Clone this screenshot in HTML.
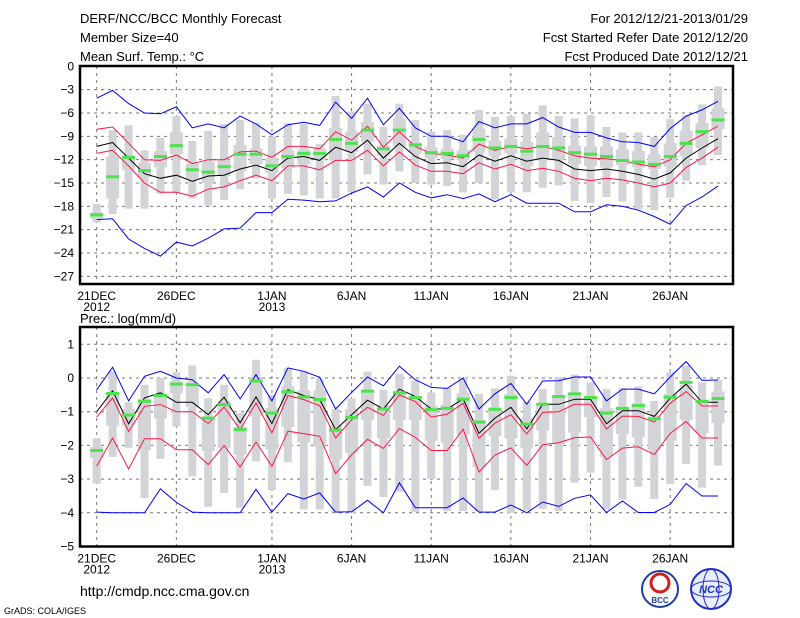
<!DOCTYPE html>
<html><head><meta charset="utf-8"><style>
html,body{margin:0;padding:0;background:#fff;}
svg{display:block;font-family:"Liberation Sans",sans-serif;}
</style></head><body>
<svg id="chart" width="800" height="618" viewBox="0 0 800 618" xmlns="http://www.w3.org/2000/svg">
<rect x="0" y="0" width="800" height="618" fill="#fff"/>
<text x="80" y="23" font-size="13">DERF/NCC/BCC Monthly Forecast</text>
<text x="80" y="42" font-size="13">Member Size=40</text>
<text x="80" y="61" font-size="13">Mean Surf. Temp.: °C</text>
<text x="748" y="23" font-size="13" text-anchor="end">For 2012/12/21-2013/01/29</text>
<text x="748" y="42" font-size="13" text-anchor="end">Fcst Started Refer Date 2012/12/20</text>
<text x="748" y="61" font-size="13" text-anchor="end">Fcst Produced Date 2012/12/21</text>
<text x="80" y="323" font-size="13">Prec.: log(mm/d)</text>
<text x="80" y="596" font-size="14">http://cmdp.ncc.cma.gov.cn</text>
<text x="4" y="614" font-size="9">GrADS: COLA/IGES</text>
<g>
<circle cx="660" cy="589" r="18" fill="#fff" stroke="#1f3fa0" stroke-width="2"/>
<circle cx="660" cy="583" r="9" fill="none" stroke="#d02020" stroke-width="3"/>
<text x="660" y="603" font-size="8" text-anchor="middle" fill="#1f3fa0" font-weight="bold">BCC</text>
</g>
<g>
<circle cx="711" cy="589" r="20" fill="#e8ecff" stroke="#2030c0" stroke-width="2"/>
<ellipse cx="711" cy="589" rx="20" ry="8" fill="none" stroke="#2030c0" stroke-width="1"/>
<ellipse cx="711" cy="589" rx="8" ry="20" fill="none" stroke="#2030c0" stroke-width="1"/>
<text x="711" y="593" font-size="11" text-anchor="middle" fill="#2030c0" font-weight="bold" font-style="italic">NCC</text>
</g>
</svg>
<script>
// ----- Temperature panel data (°C), 2012-12-21 .. 2013-01-29 -----
const tBlueHi=[-4.1,-3.1,-4.8,-6.0,-6.1,-5.2,-7.9,-7.4,-7.9,-6.4,-7.4,-8.8,-7.5,-7.2,-7.6,-4.6,-6.7,-4.1,-7.5,-5.4,-7.9,-9.0,-9.0,-9.7,-7.1,-7.9,-7.4,-7.4,-6.6,-7.8,-8.5,-8.5,-9.2,-9.7,-9.8,-10.3,-8.0,-6.4,-5.6,-4.5];
const tRedHi=[-8.1,-7.8,-9.9,-12.0,-12.1,-11.4,-12.5,-12.0,-12.0,-11.0,-10.9,-11.7,-10.3,-10.3,-10.6,-8.4,-9.5,-7.7,-10.4,-8.4,-10.3,-11.2,-11.4,-11.8,-10.0,-10.8,-10.3,-10.6,-10.3,-10.8,-11.5,-11.8,-11.9,-12.1,-12.6,-12.9,-12.0,-9.9,-8.8,-7.7];
const tMean=[-10.3,-9.8,-11.8,-13.8,-14.4,-14.0,-14.8,-14.1,-14.0,-13.2,-12.7,-13.4,-11.8,-11.6,-12.1,-10.4,-11.1,-9.5,-11.8,-9.9,-11.6,-12.5,-12.4,-12.9,-11.4,-12.2,-11.5,-12.2,-11.8,-12.1,-13.2,-13.4,-13.2,-13.5,-13.9,-14.5,-13.7,-11.8,-10.5,-9.3];
const tRedLo=[-11.2,-10.8,-12.8,-15.0,-16.2,-16.2,-16.7,-15.8,-15.5,-14.7,-14.0,-14.7,-12.8,-12.8,-13.3,-12.1,-12.1,-10.8,-12.8,-11.0,-12.7,-13.5,-13.5,-13.8,-12.4,-13.2,-12.6,-13.4,-13.1,-13.5,-14.4,-14.7,-14.4,-14.6,-15.0,-15.5,-15.0,-13.0,-11.8,-10.4];
const tBlueLo=[-19.7,-19.6,-22.2,-23.4,-24.4,-22.6,-23.1,-22.1,-20.9,-20.8,-18.8,-18.8,-17.1,-17.2,-17.4,-17.3,-16.3,-15.5,-16.8,-15.0,-16.2,-16.9,-16.5,-17.0,-16.4,-17.4,-16.5,-17.6,-17.6,-17.6,-18.7,-18.7,-17.8,-18.0,-18.5,-19.3,-20.3,-17.9,-16.8,-15.4];
const tGreen=[-19.1,-14.2,-11.7,-13.4,-11.6,-10.2,-13.3,-13.6,-12.9,-11.3,-11.3,-12.8,-11.6,-11.2,-11.2,-9.4,-9.9,-8.2,-10.6,-8.2,-10.1,-11.1,-11.2,-11.5,-9.4,-10.5,-10.3,-10.9,-10.3,-10.5,-11.1,-11.3,-11.6,-12.1,-12.3,-12.6,-11.6,-9.9,-8.4,-6.9];
const tOutHi=[-17.7,-8.2,-7.6,-10.8,-9.2,-6.4,-9.6,-8.3,-7.4,-6.9,-7.3,-9.0,-7.3,-7.4,-10.0,-3.8,-5.8,-4.8,-7.8,-4.8,-6.9,-8.4,-8.2,-8.8,-5.6,-6.5,-6.4,-6.1,-5.0,-6.4,-6.7,-6.3,-7.8,-8.5,-8.5,-9.1,-6.8,-6.3,-4.9,-2.6];
const tOutLo=[-20.1,-19.0,-18.3,-18.3,-16.4,-16.3,-17.0,-17.9,-17.2,-15.8,-14.4,-17.0,-16.4,-16.6,-17.0,-17.0,-16.2,-13.9,-15.2,-13.5,-15.0,-15.2,-15.4,-16.2,-15.0,-17.1,-16.2,-16.2,-15.6,-15.3,-17.3,-17.6,-16.8,-17.4,-18.4,-18.5,-16.9,-14.7,-12.7,-11.4];
const tInHi=[-18.8,-11.6,-11.5,-12.4,-10.9,-8.5,-12.5,-12.3,-12.1,-10.1,-10.6,-11.8,-10.8,-10.7,-10.6,-7.9,-8.4,-7.2,-10.2,-6.7,-9.8,-10.4,-10.6,-10.8,-8.0,-9.6,-9.3,-9.7,-8.5,-9.1,-10.2,-10.3,-10.3,-10.7,-10.9,-11.3,-9.9,-8.3,-7.3,-5.4];
const tInLo=[-19.6,-17.0,-13.3,-14.3,-13.0,-11.3,-14.5,-15.0,-14.1,-13.5,-12.6,-13.7,-13.1,-12.6,-12.0,-12.1,-11.0,-9.7,-11.5,-10.3,-11.2,-11.8,-11.9,-12.1,-11.0,-11.5,-11.2,-12.8,-12.1,-12.0,-12.6,-12.8,-13.0,-12.7,-13.0,-13.2,-12.9,-11.5,-10.5,-8.1];
const tTicks=[0,-3,-6,-9,-12,-15,-18,-21,-24,-27];
// ----- Precipitation panel data, log(mm/d) -----
const pBlueHi=[-0.35,0.32,-0.68,0.05,0.2,0.0,-0.05,-0.44,0.1,-0.62,0.1,-0.68,0.3,0.2,0.02,-0.92,-0.43,0.03,-0.23,0.35,-0.05,-0.28,-0.31,0.0,-0.92,-0.47,-0.16,-0.78,-0.09,-0.08,0.03,0.03,-0.68,-0.33,-0.33,-0.47,0.03,0.49,-0.07,-0.06];
const pRedHi=[-1.16,-0.59,-1.59,-0.84,-0.79,-1.0,-1.0,-1.35,-0.86,-1.53,-0.74,-1.63,-0.52,-0.64,-0.82,-1.78,-1.24,-0.87,-1.11,-0.5,-0.7,-1.16,-1.07,-0.75,-1.79,-1.34,-1.09,-1.66,-1.02,-1.0,-0.78,-0.78,-1.51,-1.13,-1.14,-1.31,-0.75,-0.4,-0.83,-0.83];
const pMean=[-1.0,-0.38,-1.36,-0.59,-0.44,-0.72,-0.72,-1.09,-0.57,-1.33,-0.56,-1.35,-0.35,-0.52,-0.64,-1.53,-1.09,-0.66,-0.92,-0.33,-0.55,-0.92,-0.92,-0.62,-1.64,-1.19,-0.87,-1.51,-0.78,-0.78,-0.63,-0.63,-1.36,-0.97,-0.97,-1.14,-0.6,-0.18,-0.72,-0.72];
const pRedLo=[-2.62,-1.78,-2.7,-1.8,-1.8,-2.13,-2.13,-2.57,-2.0,-2.64,-1.9,-2.62,-1.58,-1.65,-1.73,-2.84,-2.28,-1.82,-2.09,-1.5,-1.76,-2.15,-2.15,-1.52,-2.79,-2.29,-2.07,-2.59,-1.98,-1.92,-1.77,-1.75,-2.42,-2.08,-2.04,-2.27,-1.64,-1.29,-1.78,-1.78];
const pBlueLo=[-3.98,-4.0,-4.0,-4.0,-3.29,-3.69,-3.98,-4.0,-4.0,-4.0,-3.3,-3.98,-3.43,-3.59,-3.41,-3.98,-3.97,-3.63,-4.0,-3.11,-3.85,-3.85,-3.85,-3.56,-3.98,-3.98,-3.77,-4.0,-3.68,-3.81,-3.57,-3.47,-3.99,-3.65,-3.99,-3.99,-3.75,-3.13,-3.5,-3.5];
const pGreen=[-2.15,-0.46,-1.1,-0.69,-0.52,-0.18,-0.2,-1.19,-0.79,-1.53,-0.09,-1.04,-0.41,-0.56,-0.64,-1.55,-1.17,-0.39,-0.92,-0.44,-0.58,-0.94,-0.9,-0.63,-1.31,-0.93,-0.58,-1.37,-0.78,-0.55,-0.47,-0.58,-1.04,-0.9,-0.82,-1.21,-0.57,-0.13,-0.69,-0.61];
const pOutHi=[-1.79,0.2,-0.72,-0.2,0.0,0.17,0.37,-0.6,-0.2,-1.04,0.54,-0.5,0.3,0.2,-0.03,-0.92,-0.6,0.19,-0.35,0.13,-0.07,-0.43,-0.29,0.0,-0.47,-0.31,0.07,-0.7,-0.33,0.03,0.1,-0.13,-0.33,-0.3,-0.25,-0.68,0.17,0.37,-0.13,-0.05];
const pOutLo=[-3.13,-2.34,-2.07,-3.56,-2.4,-1.44,-2.92,-3.82,-3.41,-3.85,-2.47,-3.33,-2.5,-3.9,-3.9,-3.98,-4.0,-3.2,-3.53,-3.38,-3.98,-3.0,-3.95,-3.95,-3.96,-3.33,-4.0,-3.93,-3.88,-3.95,-3.11,-2.81,-3.9,-3.61,-3.23,-3.59,-3.15,-2.55,-3.25,-2.6];
const pInHi=[-2.05,-0.46,-0.92,-0.62,-0.5,-0.11,-0.11,-1.14,-0.69,-1.45,0.03,-0.89,-0.25,-0.37,-0.37,-1.4,-0.92,-0.4,-0.8,-0.43,-0.57,-0.83,-0.8,-0.45,-1.24,-0.87,-0.47,-1.19,-0.75,-0.53,-0.45,-0.55,-0.9,-0.87,-0.75,-1.14,-0.47,-0.2,-0.65,-0.4];
const pInLo=[-2.37,-1.41,-1.41,-2.14,-1.2,-0.46,-0.86,-2.17,-2.07,-2.27,-1.14,-2.12,-1.45,-1.91,-2.03,-2.4,-2.22,-1.24,-1.79,-1.24,-1.24,-1.86,-1.92,-1.7,-2.64,-1.72,-1.79,-2.09,-1.56,-1.96,-1.62,-1.16,-2.34,-1.66,-1.76,-2.14,-1.86,-1.24,-1.64,-1.34];
const pTicks=[1,0,-1,-2,-3,-4,-5];
// ----- x axis -----
const xTickDays=[0,5,11,16,21,26,31,36];
const xTickLabels=["21DEC","26DEC","1JAN","6JAN","11JAN","16JAN","21JAN","26JAN"];
const xTickYears=["2012","","2013","","","","",""];

const NS="http://www.w3.org/2000/svg";
const svg=document.getElementById('chart');
function mk(tag,attrs,parent){const e=document.createElementNS(NS,tag);for(const k in attrs)e.setAttribute(k,attrs[k]);(parent||svg).appendChild(e);return e;}
function xDay(i){return 96.7+15.93*i;}

function panel(cfg){
  const g=mk('g',{});
  
  
  const y=v=>cfg.y0-(v*cfg.k);
  const L=80,R=733,T=cfg.top,B=cfg.bottom;
  // grid
  cfg.ticks.forEach(t=>{
    const yy=y(t);
    if(yy>T+2&&yy<B-2){const ln=mk('line',{x1:L,x2:R,y1:yy,y2:yy,stroke:'#777','stroke-width':1,'stroke-dasharray':'3,4'},g);
      
      }
    const tx=mk('text',{x:74,y:yy+4,'font-size':12,'text-anchor':'end'},g);
    
    
    tx.textContent=String(t).replace('-','\u2212');
  });
  xTickDays.forEach((d,i)=>{
    const xx=xDay(d);
    const ln=mk('line',{x1:xx,x2:xx,y1:T,y2:B,stroke:'#777','stroke-width':1,'stroke-dasharray':'3,4'},g);
    
    
    const tx=mk('text',{x:xx,y:B+16,'font-size':12,'text-anchor':'middle'},g);
    
    
    tx.textContent=xTickLabels[i];
    if(xTickYears[i]){const ty=mk('text',{x:xx,y:B+27,'font-size':12,'text-anchor':'middle'},g);
      
      
      ty.textContent=xTickYears[i];}
  });
  // bars
  cfg.outHi.forEach((v,i)=>{
    const xx=xDay(i);
    const a=y(cfg.outHi[i]),b=y(cfg.outLo[i]);
    const r1=mk('rect',{x:xx-4,y:Math.min(a,b),width:8,height:Math.abs(b-a),fill:'#d3d4d8'},g);
    
    
    const c=y(cfg.inHi[i]),d=y(cfg.inLo[i]);
    const r2=mk('rect',{x:xx-6.5,y:Math.min(c,d),width:13,height:Math.max(1,Math.abs(d-c)),fill:'#d3d4d8'},g);
    
    
  });
  // lines
  const series=[[cfg.blueLo,'#0000ff','lower-bound-line'],[cfg.blueHi,'#0000ff','upper-bound-line'],[cfg.redLo,'#ff1744','lower-spread-line'],[cfg.redHi,'#ff1744','upper-spread-line'],[cfg.mean,'#000','ensemble-mean-line']];
  series.forEach(s=>{
    const pts=s[0].map((v,i)=>xDay(i).toFixed(1)+','+y(v).toFixed(1)).join(' ');
    const pl=mk('polyline',{points:pts,fill:'none',stroke:s[1],'stroke-width':1},g);
    
    
  });
  cfg.green.forEach((v,i)=>{
    const r=mk('rect',{x:xDay(i)-6.5,y:y(v)-1.5,width:13,height:3,fill:'#4ee34e'},g);
    
    
  });
  const fr=mk('rect',{x:L,y:T,width:R-L,height:B-T,fill:'none',stroke:'#000','stroke-width':2.5},g);
  
  
}
panel({name:'temperature-panel',y0:66.3,k:7.78,top:66,bottom:284,ticks:tTicks,blueHi:tBlueHi,redHi:tRedHi,mean:tMean,redLo:tRedLo,blueLo:tBlueLo,green:tGreen,outHi:tOutHi,outLo:tOutLo,inHi:tInHi,inLo:tInLo});
panel({name:'precipitation-panel',y0:378,k:33.7,top:327,bottom:546.5,ticks:pTicks,blueHi:pBlueHi,redHi:pRedHi,mean:pMean,redLo:pRedLo,blueLo:pBlueLo,green:pGreen,outHi:pOutHi,outLo:pOutLo,inHi:pInHi,inLo:pInLo});
</script>
</body></html>
